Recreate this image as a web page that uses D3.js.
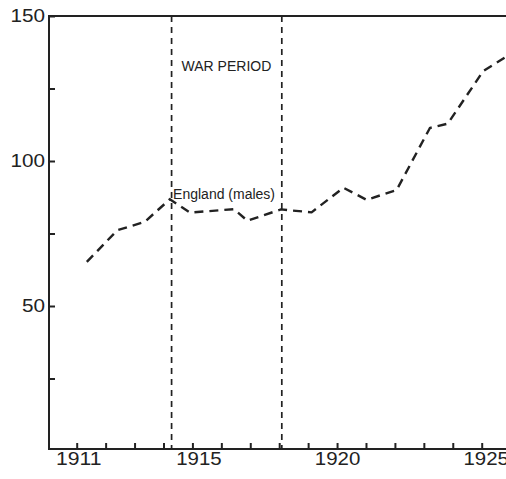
<!DOCTYPE html>
<html>
<head>
<meta charset="utf-8">
<script src="https://cdn.jsdelivr.net/npm/d3@7"></script>
<style>
  html, body { margin: 0; padding: 0; background: #fff; }
  svg { display: block; }
</style>
</head>
<body>
<svg id="chart" width="506" height="479"></svg>
<script>
// ---- data ----
const years = [1911.35, 1912.40, 1913.35, 1914.22, 1914.92, 1916.44, 1916.90, 1918.06,
               1919.12, 1920.22, 1921.02, 1922.06, 1923.21, 1923.83, 1925.05, 1925.84];
const englandMales = [65.2, 76.1, 79.0, 86.8, 82.2, 83.4, 79.4, 83.3,
                      82.3, 90.8, 86.6, 90.0, 111.4, 112.9, 131.0, 135.9];
const warStart = 1914.28;
const warEnd = 1918.09;
const xTickYears = [1911,1912,1913,1914,1915,1916,1917,1918,1919,1920,1921,1922,1923,1924,1925];
const xTickLabels = [1911, 1915, 1920, 1925];
const yTickValues = [25, 50, 75, 100, 125, 150];
const yTickLabels = [50, 100, 150];
const seriesLabel = "England (males)";
const warLabel = "WAR PERIOD";

// ---- layout / style ----
const W = 506, H = 479;
const frameLeft = 49, frameTop = 16, frameBottom = 449;
const ink = "#222";
const font = "'Liberation Sans', Arial, Helvetica, sans-serif";
// small hand-lettering offsets of the year labels (px)
const xLabelShift = {1911: 1.5, 1915: 6, 1920: 0, 1925: 4};

const svg = d3.select("#chart");

const x = d3.scaleLinear().domain([1911, 1925]).range([76.7, 481.7]);
const y = d3.scaleLinear().domain([0, 150]).range([451, 16]);

// frame (left, top, bottom; right side runs off the picture)
svg.append("path")
  .attr("d", `M${W + 10},${frameTop}H${frameLeft}V${frameBottom}H${W + 10}`)
  .attr("fill", "none").attr("stroke", ink).attr("stroke-width", 2);

// y axis
const yAxis = d3.axisLeft(y)
  .tickValues(yTickValues)
  .tickSizeInner(-6).tickSizeOuter(0).tickPadding(4)
  .tickFormat(d => yTickLabels.includes(d) ? String(d) : "");
const gy = svg.append("g").attr("transform", `translate(${frameLeft},0)`).call(yAxis);
gy.select(".domain").remove();
gy.selectAll(".tick line").attr("stroke", ink).attr("stroke-width", 2);
gy.selectAll(".tick text")
  .attr("fill", ink).attr("font-family", font).attr("font-size", 18)
  .each(function(d) {
    if (yTickLabels.includes(d)) {
      d3.select(this).attr("textLength", String(d).length === 3 ? 34.5 : 23).attr("lengthAdjust", "spacingAndGlyphs");
    }
  });

// x axis
const xAxis = d3.axisBottom(x)
  .tickValues(xTickYears)
  .tickSizeInner(-6).tickSizeOuter(0).tickPadding(3)
  .tickFormat(d => xTickLabels.includes(d) ? String(d) : "");
const gx = svg.append("g").attr("transform", `translate(0,${frameBottom})`).call(xAxis);
gx.select(".domain").remove();
gx.selectAll(".tick line").attr("stroke", ink).attr("stroke-width", 2);
gx.selectAll(".tick text")
  .attr("fill", ink).attr("font-family", font).attr("font-size", 18)
  .each(function(d) {
    if (xTickLabels.includes(d)) {
      d3.select(this).attr("textLength", 45.5).attr("lengthAdjust", "spacingAndGlyphs")
        .attr("dx", xLabelShift[d] || 0);
    }
  });

// war period dashed verticals
svg.selectAll("line.war")
  .data([warStart, warEnd])
  .join("line")
  .attr("class", "war")
  .attr("x1", d => x(d)).attr("x2", d => x(d))
  .attr("y1", y(150)).attr("y2", frameBottom)
  .attr("stroke", ink).attr("stroke-width", 1.7)
  .attr("stroke-dasharray", "6,5");

// series line
const pts = years.map((yr, i) => [yr, englandMales[i]]);
svg.append("path")
  .datum(pts)
  .attr("fill", "none")
  .attr("stroke", ink)
  .attr("stroke-width", 2.4)
  .attr("stroke-dasharray", "9,6")
  .attr("stroke-linejoin", "miter")
  .attr("d", d3.line().x(d => x(d[0])).y(d => y(d[1])));

// labels
svg.append("text")
  .attr("x", x(warStart) + 10).attr("y", 70.5)
  .attr("font-family", font).attr("font-size", 14).attr("fill", ink)
  .text(warLabel);

svg.append("text")
  .attr("x", x(warStart) + 1.5).attr("y", 198.5)
  .attr("font-family", font).attr("font-size", 14).attr("fill", ink)
  .text(seriesLabel);
</script>
</body>
</html>
